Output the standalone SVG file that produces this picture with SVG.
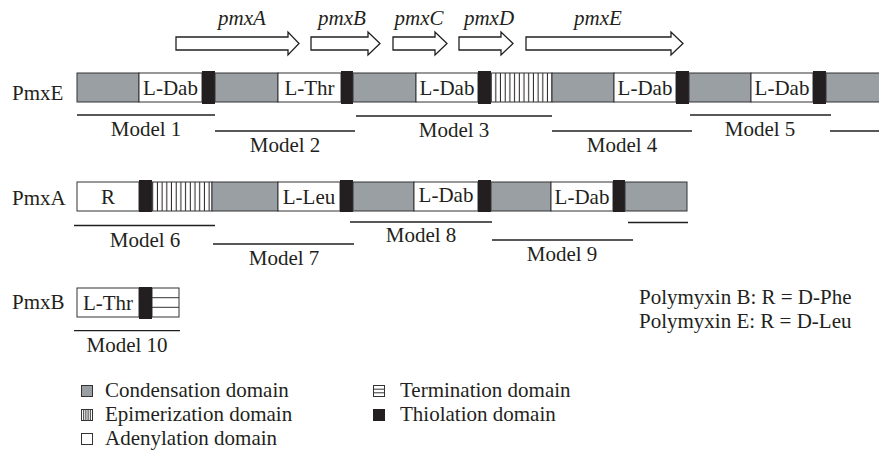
<svg xmlns="http://www.w3.org/2000/svg" width="879" height="455" viewBox="0 0 879 455">
<defs>
<pattern id="epi" patternUnits="userSpaceOnUse" x="0" y="0" width="4.7" height="10">
<rect width="4.7" height="10" fill="#fff"/>
<line x1="2.3" y1="0" x2="2.3" y2="10" stroke="#231f20" stroke-width="1"/>
</pattern>
</defs>
<style>
text{font-family:"Liberation Serif","Times New Roman",serif;font-size:21px;fill:#231f20}
.c{text-anchor:middle}
.it{font-style:italic}
.C{fill:#9a9fa4;stroke:#333;stroke-width:1}
.A{fill:#fff;stroke:#333;stroke-width:1}
.E{fill:url(#epi);stroke:#333;stroke-width:1}
.T{fill:#231f20}
.ml{stroke:#231f20;stroke-width:1.3;fill:none}
.arr{fill:#fff;stroke:#231f20;stroke-width:1.3;stroke-linejoin:miter}
.tl{stroke:#333;stroke-width:1}
</style>

<g id="genes">
<polygon class="arr" points="176,37 288,37 288,32 299,43.5 288,55 288,50 176,50"/>
<polygon class="arr" points="311,37 368,37 368,32 380,43.5 368,55 368,50 311,50"/>
<polygon class="arr" points="393,37 435,37 435,32 447,43.5 435,55 435,50 393,50"/>
<polygon class="arr" points="459,37 501,37 501,32 513,43.5 501,55 501,50 459,50"/>
<polygon class="arr" points="526,37 671,37 671,32 683,43.5 671,55 671,50 526,50"/>
<text class="c it" x="242" y="25">pmxA</text>
<text class="c it" x="342" y="25">pmxB</text>
<text class="c it" x="419" y="25">pmxC</text>
<text class="c it" x="489" y="25">pmxD</text>
<text class="c it" x="598" y="25">pmxE</text>
</g>

<g id="PmxE">
<text x="12" y="100">PmxE</text>
<rect class="C" x="77" y="73" width="62" height="29"/>
<rect class="A" x="139" y="73" width="63" height="29"/>
<rect class="T" x="202" y="71" width="13" height="33"/>
<rect class="C" x="215" y="73" width="63" height="29"/>
<rect class="A" x="278" y="73" width="63" height="29"/>
<rect class="T" x="341" y="71" width="12" height="33"/>
<rect class="C" x="353" y="73" width="63" height="29"/>
<rect class="A" x="416" y="73" width="62" height="29"/>
<rect class="T" x="478" y="71" width="13" height="33"/>
<rect class="E" x="491" y="73" width="61" height="29"/>
<rect class="C" x="552" y="73" width="62" height="29"/>
<rect class="A" x="614" y="73" width="62" height="29"/>
<rect class="T" x="676" y="71" width="13" height="33"/>
<rect class="C" x="689" y="73" width="62" height="29"/>
<rect class="A" x="751" y="73" width="62" height="29"/>
<rect class="T" x="813" y="71" width="13" height="33"/>
<rect class="C" x="826" y="73" width="60" height="29"/>
<text class="c" x="170.5" y="95">L-Dab</text>
<text class="c" x="309.5" y="95">L-Thr</text>
<text class="c" x="447" y="95">L-Dab</text>
<text class="c" x="645" y="95">L-Dab</text>
<text class="c" x="782" y="95">L-Dab</text>
</g>

<g id="PmxA">
<text x="12" y="205">PmxA</text>
<rect class="A" x="77" y="182" width="62" height="29"/>
<rect class="T" x="139" y="180" width="13" height="32"/>
<rect class="E" x="152" y="182" width="60" height="29"/>
<rect class="C" x="212" y="182" width="66" height="29"/>
<rect class="A" x="278" y="182" width="62" height="29"/>
<rect class="T" x="340" y="180" width="13" height="32"/>
<rect class="C" x="353" y="182" width="61" height="29"/>
<rect class="A" x="414" y="182" width="64" height="29"/>
<rect class="T" x="478" y="180" width="13" height="32"/>
<rect class="C" x="491" y="182" width="60" height="29"/>
<rect class="A" x="551" y="182" width="62" height="29"/>
<rect class="T" x="613" y="180" width="12" height="32"/>
<rect class="C" x="625" y="182" width="62" height="29"/>
<text class="c" x="108" y="204">R</text>
<text class="c" x="309" y="204">L-Leu</text>
<text class="c" x="446" y="202">L-Dab</text>
<text class="c" x="582" y="204">L-Dab</text>
</g>

<g id="PmxB">
<text x="12" y="309">PmxB</text>
<rect class="A" x="77" y="288" width="62" height="29"/>
<rect class="A" x="152" y="288" width="27" height="29"/>
<line class="tl" x1="152" y1="297.7" x2="179" y2="297.7"/>
<line class="tl" x1="152" y1="307.3" x2="179" y2="307.3"/>
<rect class="T" x="139" y="287" width="13" height="32"/>
<text class="c" x="108" y="310">L-Thr</text>
</g>

<g id="models">
<line class="ml" x1="77" y1="115" x2="215" y2="115"/>
<line class="ml" x1="215" y1="131" x2="355" y2="131"/>
<line class="ml" x1="356" y1="116" x2="552" y2="116"/>
<line class="ml" x1="552" y1="131" x2="692" y2="131"/>
<line class="ml" x1="690" y1="115" x2="831" y2="115"/>
<line class="ml" x1="830" y1="131" x2="879" y2="131"/>
<line class="ml" x1="74" y1="225.5" x2="215" y2="225.5"/>
<line class="ml" x1="213" y1="244" x2="354" y2="244"/>
<line class="ml" x1="350" y1="222" x2="492" y2="222"/>
<line class="ml" x1="492" y1="240" x2="633" y2="240"/>
<line class="ml" x1="628" y1="222.5" x2="688" y2="222.5"/>
<line class="ml" x1="74" y1="330.7" x2="180" y2="330.7"/>
<text class="c" x="146" y="136">Model 1</text>
<text class="c" x="285" y="152">Model 2</text>
<text class="c" x="454" y="137">Model 3</text>
<text class="c" x="622" y="152">Model 4</text>
<text class="c" x="760" y="136">Model 5</text>
<text class="c" x="145" y="247">Model 6</text>
<text class="c" x="284" y="265">Model 7</text>
<text class="c" x="421" y="242">Model 8</text>
<text class="c" x="562" y="261">Model 9</text>
<text class="c" x="127" y="352">Model 10</text>
</g>

<g id="note">
<text x="639" y="304">Polymyxin B: R = D-Phe</text>
<text x="639" y="328">Polymyxin E: R = D-Leu</text>
</g>

<g id="legend">
<rect class="C" x="81.5" y="385.5" width="11" height="11"/>
<rect class="A" x="81.5" y="409.5" width="11" height="11"/>
<path class="tl" d="M83.7,409.5V420.5M85.9,409.5V420.5M88.1,409.5V420.5M90.3,409.5V420.5"/>
<rect class="A" x="81.5" y="433.5" width="11" height="11"/>
<rect class="A" x="373.5" y="385.5" width="11" height="11"/>
<line class="tl" x1="373.5" y1="389.2" x2="384.5" y2="389.2"/>
<line class="tl" x1="373.5" y1="392.8" x2="384.5" y2="392.8"/>
<rect class="T" x="373" y="409" width="12" height="12"/>
<text x="105" y="397">Condensation domain</text>
<text x="105" y="421">Epimerization domain</text>
<text x="105" y="445">Adenylation domain</text>
<text x="400" y="397">Termination domain</text>
<text x="400" y="421">Thiolation domain</text>
</g>
</svg>
